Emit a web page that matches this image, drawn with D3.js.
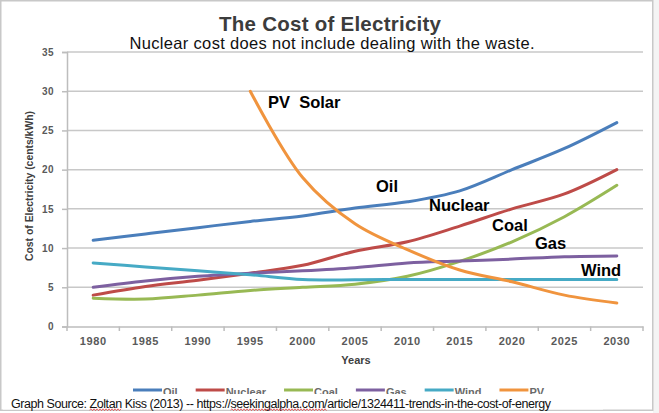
<!DOCTYPE html>
<html>
<head>
<meta charset="utf-8">
<script src="https://cdn.jsdelivr.net/npm/d3@7"></script>
<style>
  html, body { margin: 0; padding: 0; background: #fff; }
  svg { display: block; }
  text { font-family: "Liberation Sans", Arial, sans-serif; }
</style>
</head>
<body>
<svg id="chart" width="659" height="413"></svg>
<script>
// ---- data ----
const years = ["1980","1985","1990","1995","2000","2005","2010","2015","2020","2025","2030"];
const yTicks = [0, 5, 10, 15, 20, 25, 30, 35];
const oil     = [11.0, 11.8, 12.6, 13.4, 14.1, 15.1, 15.9, 17.3, 20.0, 22.7, 26.0];
const nuclear = [4.0, 5.1, 5.9, 6.8, 7.8, 9.6, 10.8, 12.8, 15.0, 16.9, 20.0];
const coal    = [3.6, 3.5, 4.0, 4.6, 5.0, 5.4, 6.4, 8.3, 10.8, 14.0, 18.0];
const gas     = [5.0, 5.8, 6.4, 6.8, 7.1, 7.5, 8.1, 8.35, 8.6, 8.9, 9.0];
const wind    = [8.1, 7.6, 7.1, 6.6, 6.0, 5.95, 6.0, 6.0, 6.0, 6.0, 6.0];
const pv      = [null, null, null, 30.0, 19.0, 13.1, 9.8, 7.2, 5.7, 4.0, 3.0];
const seriesNames = ["Oil", "Nuclear", "Coal", "Gas", "Wind", "PV"];
const seriesColors = ["#4a7ebb", "#be4b48", "#98b954", "#7d60a0", "#46aac5", "#f0943e"];
const annotations = [
  {text: "PV  Solar", x: 268, y: 108},
  {text: "Oil", x: 376, y: 192},
  {text: "Nuclear", x: 429, y: 211},
  {text: "Coal", x: 492, y: 231},
  {text: "Gas", x: 535, y: 249},
  {text: "Wind", x: 581, y: 276}
];
const titleText = "The Cost of Electricity";
const subtitleText = "Nuclear cost does not include dealing with the waste.";
const yTitle = "Cost of Electricity (cents/kWh)";
const xTitle = "Years";
const sourceText = "Graph Source: Zoltan Kiss (2013) -- https://seekingalpha.com/article/1324411-trends-in-the-cost-of-energy";

const allSeries = [oil, nuclear, coal, gas, wind, pv];

// ---- drawing ----
const svg = d3.select("#chart");
const W = 659, H = 413;

// frame
svg.append("rect").attr("x", 653).attr("y", 0).attr("width", 6).attr("height", H).attr("fill", "#f4f4f4");
svg.append("rect").attr("x", 0.75).attr("y", 0.75).attr("width", 652).attr("height", 409.5)
  .attr("fill", "#fff").attr("stroke", "#c8c8c8").attr("stroke-width", 1.5);

const x = d3.scaleBand().domain(years).range([67, 643]).padding(0);
const y = d3.scaleLinear().domain([0, 35]).range([326.5, 52]);
const xc = d => x(d) + x.bandwidth() / 2;

// gridlines
svg.append("g").selectAll("line").data(yTicks.filter(t => t > 0)).join("line")
  .attr("x1", 67).attr("x2", 643)
  .attr("y1", d => y(d)).attr("y2", d => y(d))
  .attr("stroke", "#c8c8c8").attr("stroke-width", 1.5);

// y axis
const yAxis = svg.append("g").attr("transform", "translate(67,0)")
  .call(d3.axisLeft(y).tickValues(yTicks).tickSize(5).tickPadding(8));
yAxis.select(".domain").attr("stroke", "#bdbdbd").attr("stroke-width", 1.5);
yAxis.selectAll(".tick line").attr("stroke", "#bdbdbd").attr("stroke-width", 1.5);
yAxis.selectAll(".tick text").attr("fill", "#5a5a5a").attr("font-size", 10).attr("font-weight", "bold")
  .attr("font-family", "'Liberation Sans', Arial, sans-serif").attr("letter-spacing", 0.5);

// x axis
const xAxis = svg.append("g").attr("transform", "translate(0,326.5)")
  .call(d3.axisBottom(x).tickSize(0).tickPadding(11).tickSizeOuter(0));
xAxis.select(".domain").attr("stroke", "#bdbdbd").attr("stroke-width", 1.5);
xAxis.selectAll(".tick text").attr("fill", "#5a5a5a").attr("font-size", 11).attr("font-weight", "bold")
  .attr("font-family", "'Liberation Sans', Arial, sans-serif").attr("letter-spacing", 0.6);
// category boundary ticks
const bounds = years.map(d => x(d)).concat([643]);
svg.append("g").selectAll("line").data(bounds).join("line")
  .attr("x1", d => d).attr("x2", d => d).attr("y1", 326.5).attr("y2", 331)
  .attr("stroke", "#bdbdbd").attr("stroke-width", 1.5);

// axis titles
svg.append("text").attr("transform", "translate(33,186) rotate(-90)")
  .attr("text-anchor", "middle").attr("font-size", 10).attr("font-weight", "bold")
  .attr("fill", "#404040").attr("textLength", 150).attr("lengthAdjust", "spacingAndGlyphs").text(yTitle);
svg.append("text").attr("x", 356).attr("y", 364).attr("text-anchor", "middle")
  .attr("font-size", 11).attr("font-weight", "bold").attr("fill", "#404040").text(xTitle);

// lines
const line = d3.line()
  .defined(d => d.v != null)
  .x(d => xc(d.year))
  .y(d => y(d.v))
  .curve(d3.curveCatmullRom.alpha(0.5));
allSeries.forEach((vals, i) => {
  const pts = years.map((yr, j) => ({year: yr, v: vals[j]}));
  svg.append("path").datum(pts).attr("d", line)
    .attr("fill", "none").attr("stroke", seriesColors[i]).attr("stroke-width", 3)
    .attr("stroke-linecap", "round").attr("stroke-linejoin", "round");
});

// title and subtitle
svg.append("text").attr("x", 330).attr("y", 30.5).attr("text-anchor", "middle")
  .attr("font-size", 20.5).attr("font-weight", "bold").attr("fill", "#3c3c3c")
  .attr("textLength", 222).attr("lengthAdjust", "spacing").text(titleText);
svg.append("text").attr("x", 332).attr("y", 48.5).attr("text-anchor", "middle")
  .attr("font-size", 16.5).attr("fill", "#111")
  .attr("textLength", 405).attr("lengthAdjust", "spacing").text(subtitleText);

// annotations
svg.append("g").selectAll("text").data(annotations).join("text")
  .attr("x", d => d.x).attr("y", d => d.y)
  .attr("font-size", 16.5).attr("font-weight", "bold").attr("fill", "#000")
  .style("white-space", "pre").text(d => d.text);

// legend
const lg = svg.append("g");
let lx = 133;
seriesNames.forEach((name, i) => {
  lg.append("line").attr("x1", lx).attr("x2", lx + 29).attr("y1", 390).attr("y2", 390)
    .attr("stroke", seriesColors[i]).attr("stroke-width", 3);
  const t = lg.append("text").attr("x", lx + 30).attr("y", 396)
    .attr("font-size", 11).attr("font-weight", "bold").attr("fill", "#6a6a6a").text(name);
  lx += 30 + t.node().getComputedTextLength() + 18;
});

// white box under source text (clips legend bottom)
svg.append("rect").attr("x", 3).attr("y", 394).attr("width", 600).attr("height", 15.5).attr("fill", "#fff");

// source text
const src = svg.append("text").attr("x", 11).attr("y", 408)
  .attr("font-size", 12.5).attr("fill", "#111")
  .attr("textLength", 540).attr("lengthAdjust", "spacing").text(sourceText);

// spell-check wavy underlines
function wavy(sub) {
  const node = src.node();
  const idx = sourceText.indexOf(sub);
  const x0 = node.getStartPositionOfChar(idx).x;
  const x1 = node.getEndPositionOfChar(idx + sub.length - 1).x;
  let d = `M${x0},410`;
  let up = true;
  for (let xx = x0 + 1.5; xx <= x1; xx += 1.5) {
    d += ` L${xx},${up ? 408.8 : 410.6}`;
    up = !up;
  }
  svg.append("path").attr("d", d).attr("fill", "none").attr("stroke", "#e04040").attr("stroke-width", 0.8);
}
wavy("Zoltan");
wavy("seekingalpha.com/");
</script>
</body>
</html>
